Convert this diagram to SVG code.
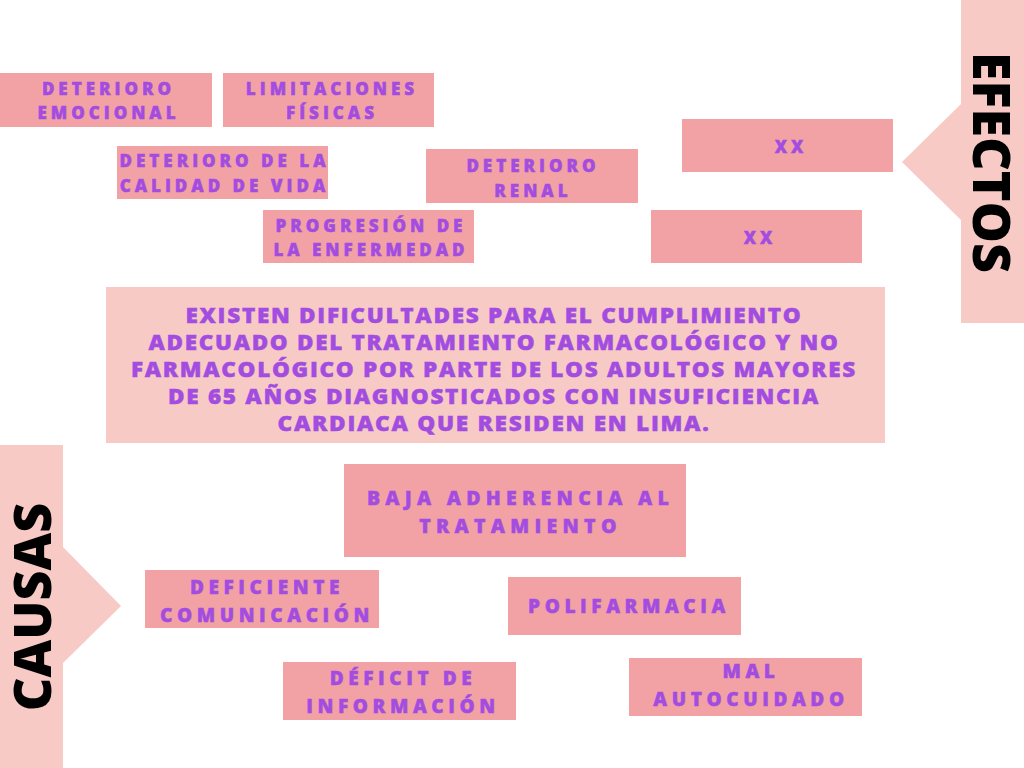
<svg xmlns="http://www.w3.org/2000/svg" width="1024" height="768" viewBox="0 0 1024 768">
<style>
.bg{fill:#ffffff}
.band{fill:#F7CAC5}
.box{fill:#F2A1A4}
.main{fill:#F7CAC5}
.t{font-family:"Open Sans","Liberation Sans",sans-serif;font-weight:800;fill:#A24DE0;stroke:#A24DE0;stroke-width:0.45px;text-anchor:middle}
.s{font-size:17px;letter-spacing:4.0px}
.m{font-size:19px;letter-spacing:4.6px}
.mb{font-size:19.5px;letter-spacing:5.3px}
.mt{font-size:21px;letter-spacing:1.6px}
.big{font-family:"Open Sans","Liberation Sans",sans-serif;font-weight:800;font-size:52px;fill:#000000;text-anchor:middle}
</style>
<rect class="bg" x="0" y="0" width="1024" height="768"/>

<g id="efectos">
<rect class="band" x="961" y="0" width="63" height="323"/>
<polygon class="band" points="961,104 902,162 961,220"/>
<text class="big" transform="translate(973,162.5) rotate(90)" x="0" y="0">EFECTOS</text>
</g>

<g id="causas">
<rect class="band" x="0" y="445" width="63" height="323"/>
<polygon class="band" points="63,547 121,606 63,663"/>
<text class="big" transform="translate(51,607) rotate(-90)" x="0" y="0">CAUSAS</text>
</g>

<g id="deterioro-emocional">
<rect class="box" x="0" y="73" width="212" height="54"/>
<text class="t s" x="108.5" y="95">DETERIORO</text>
<text class="t s" x="108.5" y="119">EMOCIONAL</text>
</g>

<g id="limitaciones-fisicas">
<rect class="box" x="223" y="73" width="211" height="54"/>
<text class="t s" x="332" y="95">LIMITACIONES</text>
<text class="t s" x="332" y="119">FÍSICAS</text>
</g>

<g id="deterioro-calidad">
<rect class="box" x="117" y="146" width="211" height="53"/>
<text class="t s" x="224.5" y="167">DETERIORO DE LA</text>
<text class="t s" x="224.5" y="192">CALIDAD DE VIDA</text>
</g>

<g id="deterioro-renal">
<rect class="box" x="426" y="149" width="212" height="54"/>
<text class="t s" x="533" y="172">DETERIORO</text>
<text class="t s" x="533" y="197">RENAL</text>
</g>

<g id="progresion">
<rect class="box" x="263" y="210" width="211" height="53"/>
<text class="t s" x="371" y="232">PROGRESIÓN DE</text>
<text class="t s" x="371" y="256">LA ENFERMEDAD</text>
</g>

<g id="xx-1">
<rect class="box" x="682" y="119" width="211" height="53"/>
<text class="t s" x="791" y="153">XX</text>
</g>

<g id="xx-2">
<rect class="box" x="651" y="210" width="211" height="53"/>
<text class="t s" x="760" y="244">XX</text>
</g>

<g id="problema">
<rect class="main" x="106" y="287" width="779" height="156"/>
<text class="t mt" x="494" y="323" textLength="617" lengthAdjust="spacingAndGlyphs">EXISTEN DIFICULTADES PARA EL CUMPLIMIENTO</text>
<text class="t mt" x="494" y="350" textLength="691" lengthAdjust="spacingAndGlyphs">ADECUADO DEL TRATAMIENTO FARMACOLÓGICO Y NO</text>
<text class="t mt" x="494" y="377" textLength="726" lengthAdjust="spacingAndGlyphs">FARMACOLÓGICO POR PARTE DE LOS ADULTOS MAYORES</text>
<text class="t mt" x="494" y="404" textLength="652" lengthAdjust="spacingAndGlyphs">DE 65 AÑOS DIAGNOSTICADOS CON INSUFICIENCIA</text>
<text class="t mt" x="494" y="431" textLength="433" lengthAdjust="spacingAndGlyphs">CARDIACA QUE RESIDEN EN LIMA.</text>
</g>

<g id="baja-adherencia">
<rect class="box" x="344" y="464" width="342" height="93"/>
<text class="t mb" x="520.5" y="505">BAJA ADHERENCIA AL</text>
<text class="t mb" x="520.5" y="533">TRATAMIENTO</text>
</g>

<g id="deficiente-comunicacion">
<rect class="box" x="145" y="570" width="234" height="58"/>
<text class="t m" x="267" y="594">DEFICIENTE</text>
<text class="t m" x="267" y="622">COMUNICACIÓN</text>
</g>

<g id="polifarmacia">
<rect class="box" x="508" y="577" width="233" height="58"/>
<text class="t m" x="629" y="613">POLIFARMACIA</text>
</g>

<g id="deficit-informacion">
<rect class="box" x="283" y="662" width="233" height="58"/>
<text class="t m" x="403" y="685">DÉFICIT DE</text>
<text class="t m" x="403" y="713">INFORMACIÓN</text>
</g>

<g id="mal-autocuidado">
<rect class="box" x="629" y="658" width="233" height="58"/>
<text class="t m" x="751" y="678">MAL</text>
<text class="t m" x="751" y="706">AUTOCUIDADO</text>
</g>

<g id="connectors"></g>
</svg>
